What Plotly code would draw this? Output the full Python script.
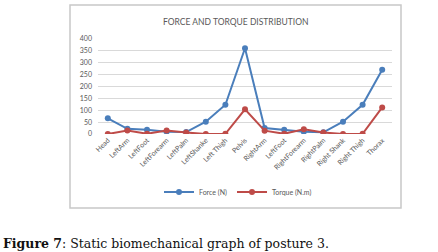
import plotly.graph_objects as go

categories = ["Head", "LeftArm", "LeftFoot", "LeftForearm", "LeftPalm", "LeftShanke",
              "Left Thigh", "Pelvis", "RightArm", "LeftFoot", "RightForearm", "RightPalm",
              "Right Shank", "Right Thigh", "Thorax"]
force = [66, 22, 18, 10, 8, 52, 123, 361, 25, 18, 10, 7, 52, 123, 271]
torque = [0, 15, 1, 15, 6, 0, 1, 104, 14, 1, 20, 6, 0, 1, 112]
y_ticks = [0, 50, 100, 150, 200, 250, 300, 350, 400]

x = list(range(len(categories)))

W, H = 438, 252
L, R, T, B = 98, 46, 39, 118
pw, ph = W - L - R, H - T - B

def px(xp):
    return (xp - L) / pw

def py(yp):
    return (H - B - yp) / ph

FONT = "Lato, 'Open Sans', sans-serif"
GRAY = "#595959"

fig = go.Figure()
fig.add_trace(go.Scatter(x=x, y=force, name="Force (N)", mode="lines+markers",
                         line=dict(color="#4A7EBB", width=2),
                         marker=dict(symbol="circle", size=6, color="#4A7EBB")))
fig.add_trace(go.Scatter(x=x, y=torque, name="Torque (N.m)", mode="lines+markers",
                         line=dict(color="#BE4B48", width=2),
                         marker=dict(symbol="circle", size=6, color="#BE4B48")))

fig.update_layout(
    width=W, height=H,
    margin=dict(l=L, r=R, t=T, b=B, autoexpand=False),
    paper_bgcolor="white", plot_bgcolor="white",
    font=dict(family=FONT, size=7, color=GRAY),
    xaxis=dict(range=[-0.5, 14.5], tickmode="array", tickvals=x, ticktext=categories,
               tickangle=-45, showgrid=False, zeroline=False, showline=False,
               ticks="", tickfont=dict(size=7, color=GRAY), fixedrange=True,
               automargin=False),
    yaxis=dict(range=[0, 400], tickmode="array", tickvals=y_ticks,
               ticktext=[str(v) for v in y_ticks],
               showgrid=True, gridcolor="#D9D9D9", gridwidth=1, zeroline=False,
               showline=False, ticks="", ticklabelstandoff=5,
               tickfont=dict(size=7, color=GRAY), fixedrange=True, automargin=False),
    legend=dict(orientation="h", x=px(238), y=py(192), xanchor="center", yanchor="middle",
                font=dict(size=7, color=GRAY), itemwidth=30, bgcolor="rgba(0,0,0,0)"),
    showlegend=True,
)

# chart border
fig.add_shape(type="rect", xref="paper", yref="paper",
              x0=px(70), x1=px(401), y0=py(208), y1=py(5),
              line=dict(color="#C8C8C8", width=1.5), fillcolor="rgba(0,0,0,0)", layer="below")

# title
fig.add_annotation(text="FORCE AND TORQUE DISTRIBUTION", xref="paper", yref="paper",
                   x=px(235.5), y=py(22), xanchor="center", yanchor="middle",
                   showarrow=False, font=dict(family=FONT, size=8.5, color=GRAY))

# caption
fig.add_annotation(text="<b>Figure 7</b>: Static biomechanical graph of posture 3.",
                   xref="paper", yref="paper", x=px(1), y=py(243),
                   xanchor="left", yanchor="middle", showarrow=False,
                   font=dict(family="'DejaVu Serif', 'Liberation Serif', serif", size=12.5, color="#111111"))

fig.write_html("out.html", config={"displayModeBar": False},
               post_script="document.body.style.margin='0';document.body.style.overflow='hidden';")
